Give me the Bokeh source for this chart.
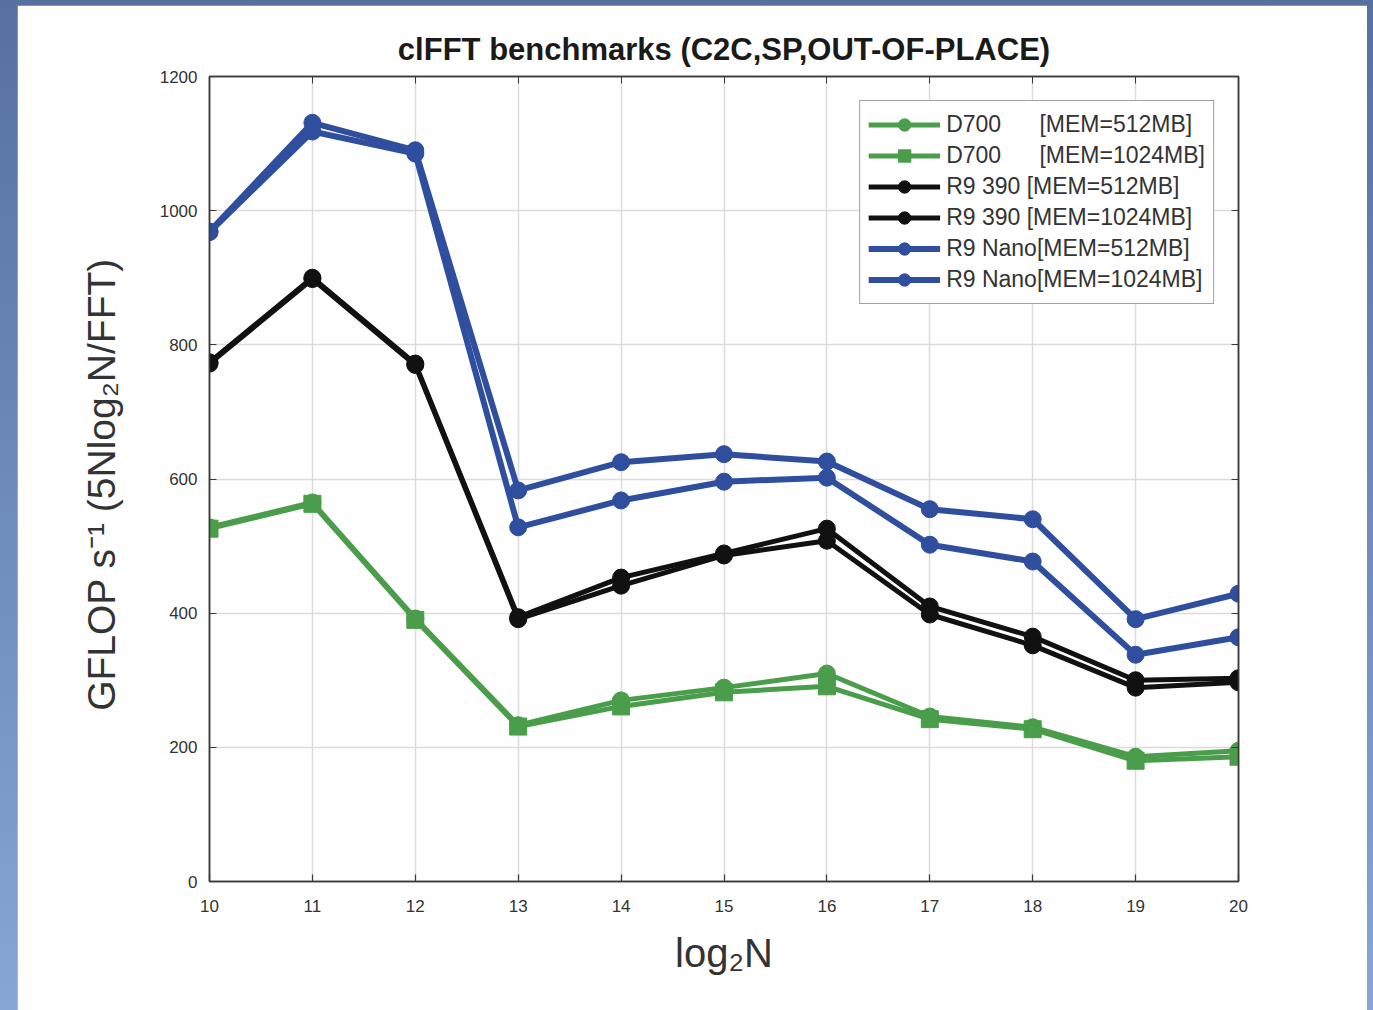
from bokeh.plotting import figure
from bokeh.layouts import column
from bokeh.models import (Range1d, SingleIntervalTicker, LinearAxis, CustomJSTickFormatter,
                          Legend, LegendItem)
from bokeh.embed import file_html
from bokeh.resources import INLINE

# ---- data ----
log2n = [10, 11, 12, 13, 14, 15, 16, 17, 18, 19, 20]
d700_512 = [528, 565, 392, 233, 270, 289, 310, 246, 230, 186, 195]
d700_1024 = [526, 563, 390, 231, 261, 282, 291, 242, 227, 180, 186]
r9390_512 = [774, 900, 772, 394, 453, 489, 526, 410, 365, 300, 303]
r9390_1024 = [772, 898, 770, 391, 441, 486, 508, 398, 352, 289, 297]
nano_512 = [969, 1131, 1090, 583, 625, 637, 626, 555, 540, 391, 429]
nano_1024 = [968, 1118, 1085, 528, 568, 596, 602, 502, 477, 338, 364]

NB = "\u00a0"
series = [
    ("D700" + NB * 6 + "[MEM=512MB]", d700_512, "#4a9d4a", "circle"),
    ("D700" + NB * 6 + "[MEM=1024MB]", d700_1024, "#4a9d4a", "square"),
    ("R9 390" + NB + "[MEM=512MB]", r9390_512, "#111111", "circle"),
    ("R9 390" + NB + "[MEM=1024MB]", r9390_1024, "#111111", "circle"),
    ("R9 Nano[MEM=512MB]", nano_512, "#2f4f9e", "circle"),
    ("R9 Nano[MEM=1024MB]", nano_1024, "#2f4f9e", "circle"),
]

FONT = "Liberation Sans, Arial, sans-serif"

p = figure(frame_width=1029, frame_height=805,
           min_border_left=192, min_border_right=129, min_border_top=71, min_border_bottom=129,
           x_range=Range1d(10, 20), y_range=Range1d(0, 1200),
           output_backend="svg", toolbar_location=None,
           title="clFFT benchmarks (C2C,SP,OUT-OF-PLACE)")

p.background_fill_color = "#fefefe"
p.border_fill_color = "#ffffff"
p.outline_line_color = "#3a3a3a"
p.outline_line_width = 1.5

p.title.align = "center"
p.title.text_font = FONT
p.title.text_font_size = "31px"
p.title.text_font_style = "bold"
p.title.text_color = "#1a1a1a"
p.title.standoff = 20

p.xaxis.ticker = SingleIntervalTicker(interval=1)
p.yaxis.ticker = SingleIntervalTicker(interval=200)
for ax in (p.xaxis[0], p.yaxis[0]):
    ax.major_tick_in = 7
    ax.major_tick_out = 0
    ax.minor_tick_in = 0
    ax.minor_tick_out = 0
    ax.axis_line_color = "#3a3a3a"
    ax.axis_line_width = 1.5
    ax.major_tick_line_color = "#3a3a3a"
    ax.major_tick_line_width = 1.2
    ax.major_label_text_font = FONT
    ax.major_label_text_font_size = "17px"
    ax.major_label_text_color = "#333333"
    ax.axis_label_text_font = FONT
    ax.axis_label_text_font_style = "normal"
    ax.axis_label_text_color = "#333333"

p.xaxis.major_label_standoff = 18
p.yaxis.major_label_standoff = 12
p.xaxis.axis_label = "log\u2082N"
p.xaxis.axis_label_text_font_size = "40px"
p.xaxis.axis_label_standoff = 16
p.yaxis.axis_label = "GFLOP s\u207b\u00b9  (5Nlog\u2082N/FFT)"
p.yaxis.axis_label_text_font_size = "39px"
p.yaxis.axis_label_standoff = 34

# top / right axes with inward ticks and no labels
blank = CustomJSTickFormatter(code="return ''")
top = LinearAxis(ticker=SingleIntervalTicker(interval=1), formatter=blank,
                 major_tick_in=7, major_tick_out=0, minor_tick_in=0, minor_tick_out=0,
                 axis_line_color="#3a3a3a", axis_line_width=1.5,
                 major_tick_line_color="#3a3a3a", major_label_standoff=0)
right = LinearAxis(ticker=SingleIntervalTicker(interval=200), formatter=blank,
                   major_tick_in=7, major_tick_out=0, minor_tick_in=0, minor_tick_out=0,
                   axis_line_color="#3a3a3a", axis_line_width=1.5,
                   major_tick_line_color="#3a3a3a", major_label_standoff=0)
p.add_layout(top, "above")
p.add_layout(right, "right")

p.xgrid.grid_line_color = "#dcdcdc"
p.ygrid.grid_line_color = "#dcdcdc"
p.xgrid.grid_line_width = 1.5
p.ygrid.grid_line_width = 1.5

items = []
for label, vals, color, marker in series:
    lw = 6 if color == "#2f4f9e" else 5
    r1 = p.line(log2n, vals, line_color=color, line_width=lw)
    r2 = p.scatter(log2n, vals, marker=marker, size=17, fill_color=color, line_color=color)
    items.append(LegendItem(label=label, renderers=[r1, r2]))

leg = Legend(items=items, location="top_right")
leg.margin = 24
leg.padding = 8
leg.spacing = 0
leg.label_height = 31
leg.glyph_height = 31
leg.glyph_width = 72
leg.label_standoff = 6
leg.label_text_font = FONT
leg.label_text_font_size = "23px"
leg.label_text_color = "#333333"
leg.border_line_color = "#444444"
leg.border_line_width = 1.5
leg.background_fill_color = "#ffffff"
leg.background_fill_alpha = 1.0
p.add_layout(leg, "center")

page = column(p, width=1373, height=1010,
              styles={"background": "linear-gradient(#56719f, #86a6d3)",
                      "padding": "5px 6px 0px 17px"})

open("out.html", "w").write(file_html(page, INLINE))
